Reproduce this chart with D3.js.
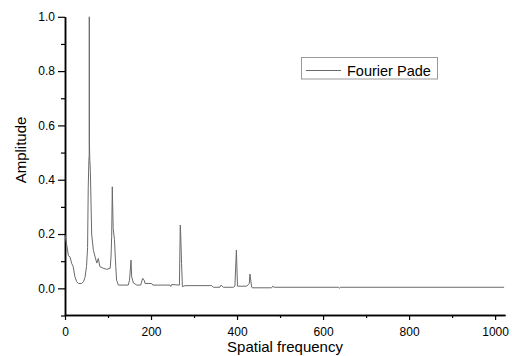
<!DOCTYPE html>
<html><head><meta charset="utf-8">
<script src="https://cdn.jsdelivr.net/npm/d3@7"></script>
<style>body{margin:0;background:#fff;} svg{display:block;} svg text{font-family:"Liberation Sans",Arial,sans-serif;}</style>
</head><body><svg id="c" width="512" height="356"></svg>
<script>
const freq = [0,1,3,8,11.6,15.5,19,23,27,31,39,43,46.5,50,52.5,54,55.5,56.3,56.5,56.8,57.5,59,62,66,70,74,77.5,81,89,97,105,107,108.5,110,112,115,118,120,124,147,150,153.5,155,159,167,176,180.5,184,186,201.5,204,244,246,248,266,268,269,271,273,279,341,345,360,363,368,391.5,395,398.5,401,422.5,428.5,430,434,436.5,480.5,483,486,636,638,640,1021];
const amp  = [0.196,0.19,0.17,0.12,0.116,0.092,0.08,0.043,0.025,0.018,0.018,0.025,0.04,0.08,0.15,0.37,0.47,0.49,1.0,0.54,0.48,0.43,0.2,0.14,0.116,0.093,0.11,0.08,0.074,0.07,0.074,0.116,0.19,0.374,0.22,0.18,0.08,0.03,0.012,0.012,0.03,0.104,0.043,0.02,0.012,0.012,0.037,0.03,0.018,0.018,0.012,0.012,0.007,0.014,0.012,0.233,0.2,0.092,0.006,0.01,0.01,0.004,0.004,0.012,0.004,0.004,0.008,0.141,0.008,0.008,0.018,0.053,0.004,0.002,0.002,0.008,0.004,0.004,0.0,0.004,0.004];
const xTicks = [0,200,400,600,800,1000];
const yTicks = [0.0,0.2,0.4,0.6,0.8,1.0];
const seriesName = "Fourier Pade";

const FONT = '"Liberation Sans",Arial,sans-serif';
const svg = d3.select("#c");
const x = d3.scaleLinear().domain([0,1023]).range([65,505]);
const y = d3.scaleLinear().domain([-0.1,1.0]).range([315.5,16.8]);

const xMinor = d3.range(100,1001,200);
const yMinor = d3.range(-0.1,1.0,0.2);

const gx = svg.append("g").attr("transform","translate(0,315)");
gx.call(d3.axisBottom(x).tickValues(xTicks).tickFormat(d3.format("d")).tickSize(5).tickSizeOuter(0));
gx.append("g").call(d3.axisBottom(x).tickValues(xMinor).tickFormat("").tickSize(3).tickSizeOuter(0));
gx.attr("font-family",FONT);
gx.selectAll(".domain").attr("stroke","#000").attr("stroke-width",1.5);
gx.selectAll("line").attr("stroke","#000").attr("stroke-width",1.2);
gx.selectAll("text").attr("font-size",12).attr("font-family",FONT).attr("fill","#000").attr("dy",null).attr("y",20.5);

const gy = svg.append("g").attr("transform","translate(65,0)");
gy.call(d3.axisLeft(y).tickValues(yTicks).tickFormat(d3.format(".1f")).tickSize(7).tickSizeOuter(0));
gy.append("g").call(d3.axisLeft(y).tickValues(yMinor).tickFormat("").tickSize(4).tickSizeOuter(0));
gy.attr("font-family",FONT);
gy.selectAll(".domain").attr("stroke","#000").attr("stroke-width",1.5);
gy.selectAll("line").attr("stroke","#000").attr("stroke-width",1.2);
gy.selectAll("text").attr("font-size",12).attr("font-family",FONT).attr("fill","#000").attr("x",-10);

const line = d3.line().x((d,i)=>x(freq[i])).y((d,i)=>y(amp[i]));
svg.append("path").datum(amp).attr("d",line).attr("fill","none").attr("stroke","#6a6a6a").attr("stroke-width",1);

svg.append("text").attr("x",285).attr("y",351.5).attr("text-anchor","middle").attr("font-size",15).attr("font-family",FONT).text("Spatial frequency");
svg.append("text").attr("transform","translate(26,150) rotate(-90)").attr("text-anchor","middle").attr("font-size",15).attr("font-family",FONT).text("Amplitude");

const lg = svg.append("g");
lg.append("rect").attr("x",301.5).attr("y",57.5).attr("width",136).attr("height",21.5).attr("fill","#fff").attr("stroke","#999");
lg.append("line").attr("x1",306).attr("x2",341).attr("y1",70.5).attr("y2",70.5).attr("stroke","#6a6a6a");
lg.append("text").attr("x",347).attr("y",75.5).attr("font-size",14.5).attr("font-family",FONT).text(seriesName);
</script></body></html>
